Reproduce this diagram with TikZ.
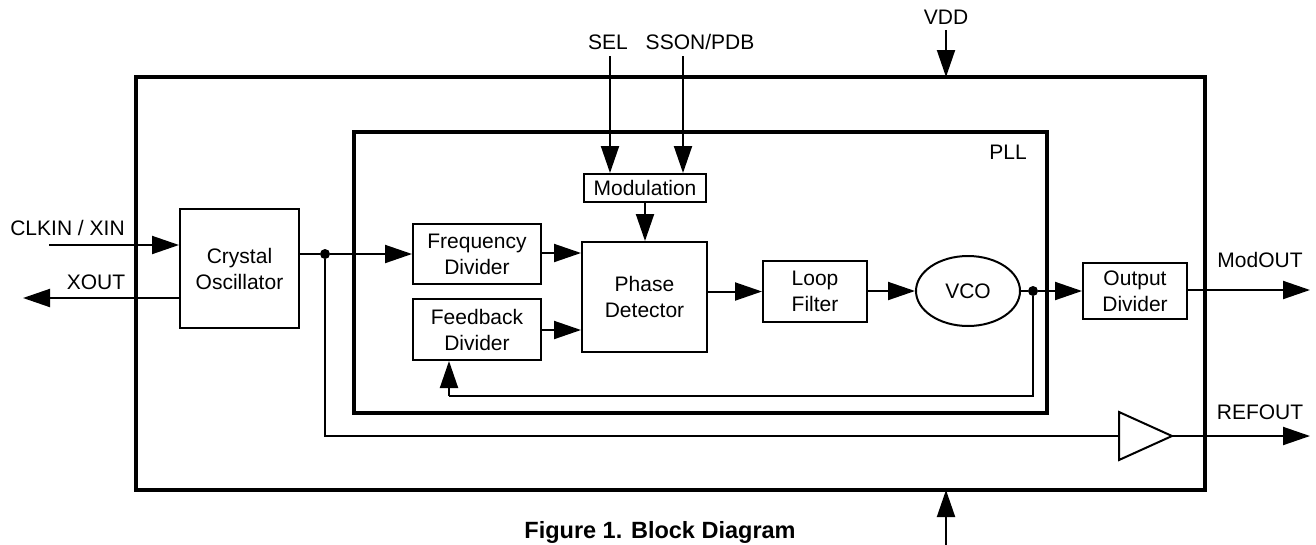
\documentclass[tikz,border=0pt]{standalone}
\usepackage{fontspec}
\setmainfont{Liberation Sans}
\usetikzlibrary{arrows.meta,shapes.geometric}
\begin{document}
\begin{tikzpicture}[x=1pt,y=-1pt,
  font=\fontsize{21}{26}\selectfont,
  block/.style={draw,line width=2pt,inner sep=0pt,align=center},
  frame/.style={draw,line width=3.5pt},
  wire/.style={line width=2pt},
  arr/.style={wire,-{Triangle[length=27pt,width=18pt]}},
  lbl/.style={inner sep=0pt},
  junction/.style={circle,fill,inner sep=0pt,minimum size=10pt}]
\useasboundingbox (0,0) rectangle (1316,544);
% frames
\draw[frame] (136,77) rectangle (1205,490);
\draw[frame] (354,132) rectangle (1047,413);
\node[lbl] (pll) at (1008,152) {PLL};
% blocks
\node[block,minimum width=119pt,minimum height=119pt] (xtal) at (239.5,268.5) {Crystal\\Oscillator};
\node[block,minimum width=128pt,minimum height=60pt] (freq) at (477,254) {Frequency\\Divider};
\node[block,minimum width=128pt,minimum height=61pt] (fb) at (477,329.5) {Feedback\\Divider};
\node[block,minimum width=125pt,minimum height=110pt] (pd) at (644.5,297) {Phase\\Detector};
\node[block,minimum width=122pt,minimum height=28pt] (mod) at (645,188) {Modulation};
\node[block,minimum width=104pt,minimum height=61pt] (lf) at (815,291.5) {Loop\\Filter};
\node[block,ellipse,minimum width=104pt,minimum height=70pt] (vco) at (968,291) {VCO};
\node[block,minimum width=104pt,minimum height=56pt] (od) at (1135,291) {Output\\Divider};
% buffer
\coordinate (bufin) at (1119,436);
\coordinate (bufout) at (1172,436);
\draw[line width=2pt,line join=miter] (1119,412) -- (1172,436) -- (1119,460) -- cycle;
% labels
\node[lbl] (sell) at (608,42) {SEL};
\node[lbl] (ssonl) at (700,42) {SSON/PDB};
\node[lbl] (vddl) at (946,17) {VDD};
\node[lbl] (clkinl) at (67.5,228) {CLKIN / XIN};
\node[lbl] (xoutl) at (96,282) {XOUT};
\node[lbl] (modoutl) at (1260,260) {ModOUT};
\node[lbl] (refoutl) at (1260,412) {REFOUT};
\node[lbl,anchor=base,font=\fontsize{23.5}{28}\selectfont\bfseries] (cap) at (660,538) {Figure 1. Block Diagram};
% coordinates
\coordinate (clkin) at (49,245);
\coordinate (xout) at (23,298);
\coordinate (sel) at (610,56);
\coordinate (sson) at (683,56);
\coordinate (vdd) at (946,30);
\coordinate (vddin) at (946,77);
\coordinate (gnd) at (946,546);
\coordinate (gndin) at (946,490);
\coordinate (modout) at (1310,290);
\coordinate (refout) at (1310,436);
\node[junction] (j1) at (325,254) {};
\node[junction] (j2) at (1033,291) {};
\coordinate (fbturn) at (1033,396);
\coordinate (fbleft) at (449,396);
\coordinate (refturn) at (325,436);
% connectors
\draw[arr] (clkin) -- (clkin -| xtal.west);
\draw[arr] (xtal.west |- xout) -- (xout);
\draw[wire] (xtal.east |- j1) -- (j1);
\draw[arr] (j1) -- (freq.west);
\draw[wire] (j1) -- (refturn) -- (bufin);
\draw[arr] (bufout) -- (refout);
\draw[arr] (freq.east |- 0,253) -- (pd.west |- 0,253);
\draw[arr] (fb.east |- 0,330) -- (pd.west |- 0,330);
\draw[arr] (mod.south) -- (mod.south |- pd.north);
\draw[arr] (sel) -- (sel |- mod.north);
\draw[arr] (sson) -- (sson |- mod.north);
\draw[arr] (pd.east |- lf.west) -- (lf.west);
\draw[arr] (lf.east |- vco.west) -- (vco.west);
\draw[wire] (vco.east) -- (j2);
\draw[arr] (j2) -- (od.west);
\draw[wire] (j2) -- (fbturn) -- (fbleft);
\draw[arr] (fbleft) -- (fbleft |- fb.south);
\draw[arr] (od.east |- modout) -- (modout);
\draw[arr] (vdd) -- (vddin);
\draw[arr] (gnd) -- (gndin);
\end{tikzpicture}
\end{document}
